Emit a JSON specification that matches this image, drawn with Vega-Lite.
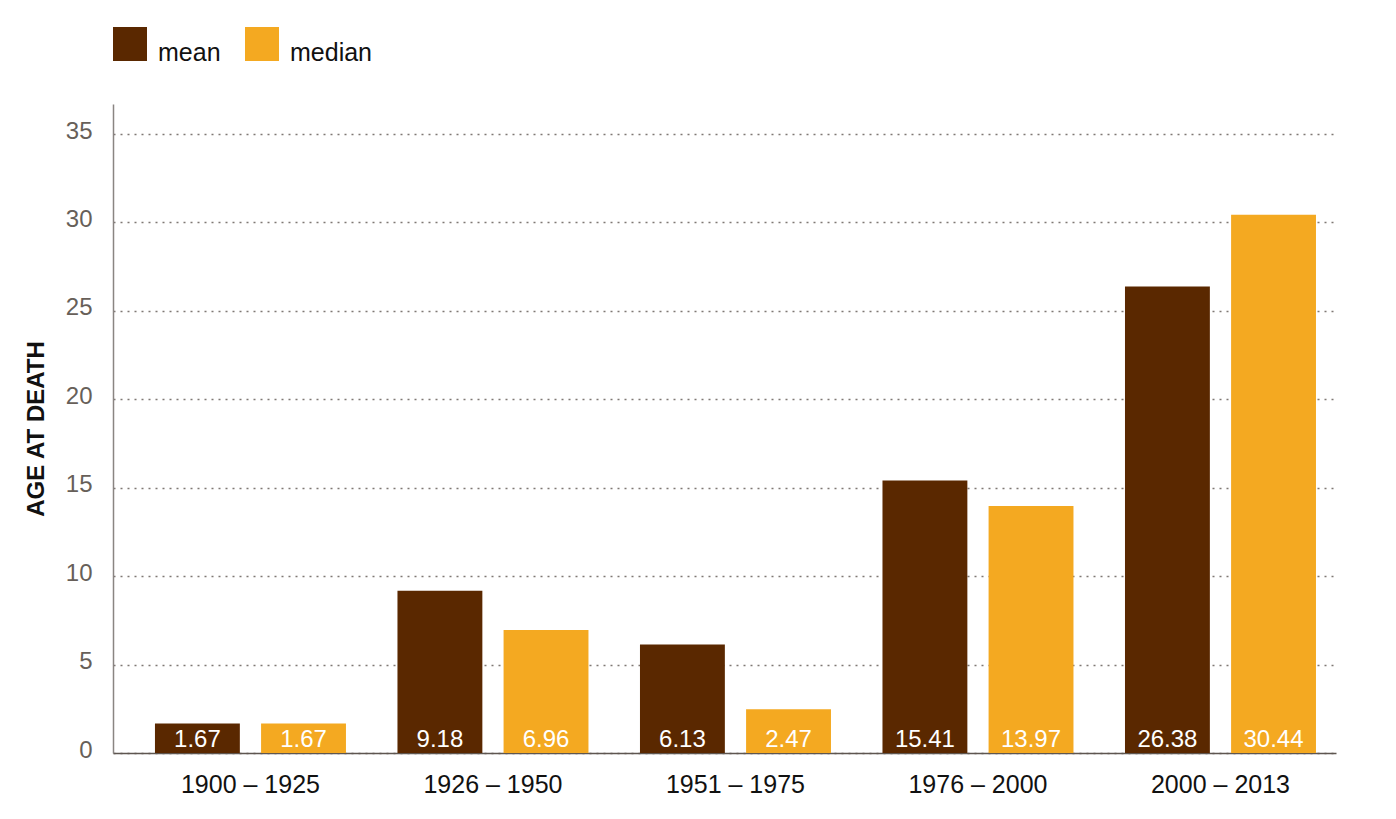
{
  "$schema": "https://vega.github.io/schema/vega-lite/v6.json",
  "width": 1223,
  "height": 649,
  "autosize": {"type": "none"},
  "padding": {"left": 113, "top": 104, "right": 60, "bottom": 66},
  "background": "white",
  "config": {"view": {"stroke": null}, "font": "Liberation Sans"},
  "data": {"values": [
    {"period": "1900 – 1925", "stat": "mean", "value": 1.67},
    {"period": "1900 – 1925", "stat": "median", "value": 1.67},
    {"period": "1926 – 1950", "stat": "mean", "value": 9.18},
    {"period": "1926 – 1950", "stat": "median", "value": 6.96},
    {"period": "1951 – 1975", "stat": "mean", "value": 6.13},
    {"period": "1951 – 1975", "stat": "median", "value": 2.47},
    {"period": "1976 – 2000", "stat": "mean", "value": 15.41},
    {"period": "1976 – 2000", "stat": "median", "value": 13.97},
    {"period": "2000 – 2013", "stat": "mean", "value": 26.38},
    {"period": "2000 – 2013", "stat": "median", "value": 30.44}
  ]},
  "encoding": {
    "x": {
      "field": "period", "type": "nominal", "sort": null,
      "scale": {"paddingInner": 0.2124, "paddingOuter": 0.1278, "align": 0.677},
      "axis": {
        "title": null, "labelAngle": 0, "ticks": false, "tickSize": 0,
        "labelFontSize": 25, "labelColor": "#111111", "labelPadding": 19,
        "domainColor": "#5e5650", "domainWidth": 1.5, "grid": false
      }
    },
    "xOffset": {
      "field": "stat", "type": "nominal", "sort": ["mean", "median"],
      "scale": {"paddingInner": 0.2, "paddingOuter": 0}
    },
    "y": {
      "field": "value", "type": "quantitative",
      "scale": {"domain": [0, 36.7], "nice": false, "zero": true},
      "axis": {
        "values": [0, 5, 10, 15, 20, 25, 30, 35],
        "grid": true, "gridDash": [2, 5], "gridColor": "#7f7874", "gridWidth": 1.4,
        "domainColor": "#8a8582", "domainWidth": 1.5,
        "ticks": false, "tickSize": 0,
        "labelFontSize": 24, "labelColor": "#675f59", "labelPadding": 21, "labelOffset": -3,
        "title": "AGE AT DEATH", "titleFontSize": 24, "titleFontWeight": "bold",
        "titleColor": "#111111", "titlePadding": 17
      }
    }
  },
  "layer": [
    {
      "mark": {"type": "bar"},
      "encoding": {
        "color": {
          "field": "stat", "type": "nominal",
          "scale": {"domain": ["mean", "median"], "range": ["#5a2800", "#f4a921"]},
          "legend": {
            "orient": "none", "legendX": 0, "legendY": -77, "direction": "horizontal",
            "title": null, "padding": 0, "symbolType": "square", "symbolSize": 1156,
            "symbolStrokeWidth": 0, "symbolOpacity": 1,
            "labelFontSize": 25, "labelColor": "#111111", "labelOffset": 11,
            "columnPadding": 24, "labelBaseline": "top",
            "encode": {"labels": {"update": {"dy": {"value": -3}}}}
          }
        }
      }
    },
    {
      "mark": {"type": "text", "color": "white", "baseline": "alphabetic", "dy": -6, "fontSize": 24},
      "encoding": {
        "y": {"datum": 0},
        "text": {"field": "value", "type": "quantitative", "format": ".2f"}
      }
    }
  ]
}
